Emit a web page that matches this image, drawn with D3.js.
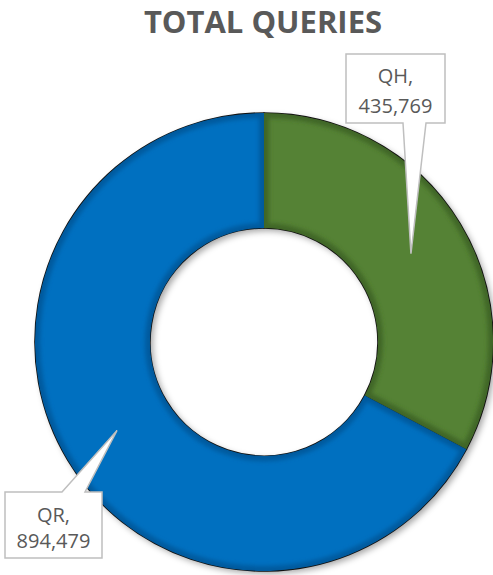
<!DOCTYPE html>
<html>
<head>
<meta charset="utf-8">
<script src="https://cdn.jsdelivr.net/npm/d3@7"></script>
<style>
  html, body { margin: 0; padding: 0; background: #fff; }
  svg { display: block; }
</style>
</head>
<body>
<svg id="chart" width="493" height="575"></svg>
<script>
// Query totals by type
const categories = ["QH", "QR"];
const values = [435769, 894479];
const colors = ["#548235", "#0070C0"];
const edgeColors = ["#3f6626", "#005a9e"];

const title = "TOTAL QUERIES";

const width = 493, height = 575;
const cx = 264, cy = 342;
const outerR = 229, innerR = 114;

const svg = d3.select("#chart");
const defs = svg.append("defs");

// soft drop shadow under the ring
const shadow = defs.append("filter").attr("id", "ringShadow")
  .attr("x", "-20%").attr("y", "-20%").attr("width", "140%").attr("height", "140%");
shadow.append("feDropShadow")
  .attr("dx", 3).attr("dy", 3).attr("stdDeviation", 3)
  .attr("flood-color", "#000").attr("flood-opacity", 0.35);

const edgeBlur = defs.append("filter").attr("id", "edgeBlur");
edgeBlur.append("feGaussianBlur").attr("stdDeviation", 2);

const data = categories.map((c, i) => ({ name: c, value: values[i], color: colors[i], edge: edgeColors[i] }));

const pie = d3.pie().sort(null).value(d => d.value);
const arc = d3.arc().innerRadius(innerR).outerRadius(outerR);
const arcs = pie(data);

const g = svg.append("g").attr("transform", `translate(${cx},${cy})`);

// title
svg.append("text")
  .attr("x", 263).attr("y", 33)
  .attr("text-anchor", "middle")
  .attr("font-family", "'Open Sans', sans-serif")
  .attr("font-weight", 700)
  .attr("font-size", 31)
  .attr("fill", "#595959")
  .text(title);

// ring with shadow
const ring = g.append("g").attr("filter", "url(#ringShadow)");
ring.selectAll("path.fill")
  .data(arcs)
  .join("path")
  .attr("class", "fill")
  .attr("d", arc)
  .attr("fill", d => d.data.color);

// darker soft edge inside each slice
arcs.forEach((a, i) => {
  defs.append("clipPath").attr("id", "clip" + i)
    .append("path").attr("d", arc(a)).attr("transform", `translate(${cx},${cy})`);
});
svg.append("g").selectAll("g")
  .data(arcs)
  .join("g")
  .attr("clip-path", (d, i) => `url(#clip${i})`)
  .append("path")
  .attr("transform", `translate(${cx},${cy})`)
  .attr("d", arc)
  .attr("fill", "none")
  .attr("stroke", d => d.data.edge)
  .attr("stroke-width", 10)
  .attr("filter", "url(#edgeBlur)");

// black outlines
g.selectAll("path.outline")
  .data(arcs)
  .join("path")
  .attr("class", "outline")
  .attr("d", arc)
  .attr("fill", "none")
  .attr("stroke", "#111")
  .attr("stroke-width", 1.6)
  .attr("stroke-linejoin", "round");

// callout boxes pointing at slice centroids
const fmt = d3.format(",");
const callouts = [
  { box: [346, 54, 99, 69], base: [403, 426], side: "bottom", lineY: [83, 113] },
  { box: [5, 492, 97, 66], base: [62, 85], side: "top", lineY: [522, 548] }
];

arcs.forEach((a, i) => {
  const c = callouts[i];
  const [bx, by, bw, bh] = c.box;
  const [c0x, c0y] = arc.centroid(a);
  const tx = cx + c0x, ty = cy + c0y;
  let pts;
  if (c.side === "bottom") {
    pts = [[bx, by], [bx + bw, by], [bx + bw, by + bh], [c.base[1], by + bh], [tx, ty], [c.base[0], by + bh], [bx, by + bh]];
  } else {
    pts = [[bx, by], [c.base[0], by], [tx, ty], [c.base[1], by], [bx + bw, by], [bx + bw, by + bh], [bx, by + bh]];
  }
  svg.append("path")
    .attr("d", d3.line()(pts) + "Z")
    .attr("fill", "#fff")
    .attr("stroke", "#bfbfbf")
    .attr("stroke-width", 1.5)
    .attr("stroke-linejoin", "miter");

  const t = svg.append("text")
    .attr("text-anchor", "middle")
    .attr("font-family", "'Open Sans', sans-serif")
    .attr("font-size", 20)
    .attr("fill", "#595959");
  t.append("tspan").attr("x", bx + bw / 2).attr("y", c.lineY[0]).text(a.data.name + ",");
  t.append("tspan").attr("x", bx + bw / 2).attr("y", c.lineY[1]).text(fmt(a.data.value));
});
</script>
</body>
</html>
